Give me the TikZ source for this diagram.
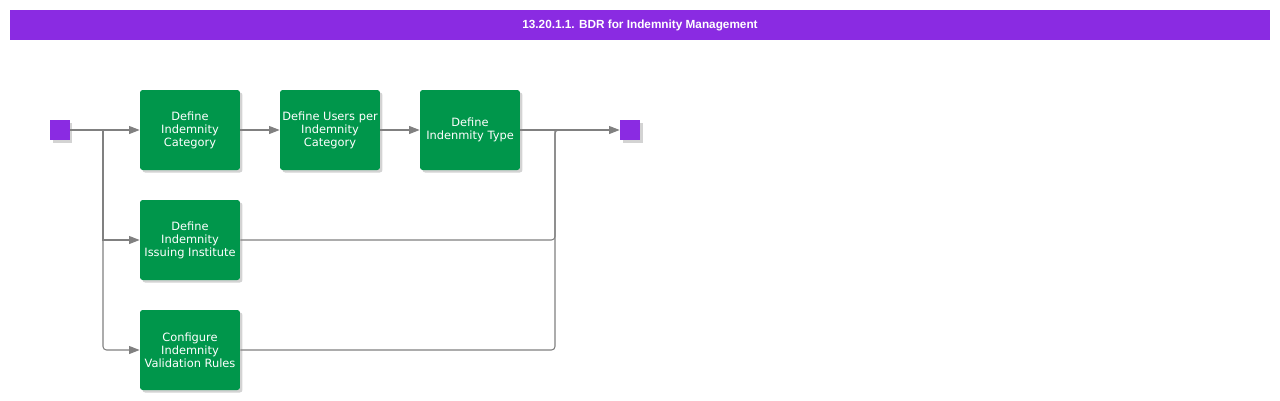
\documentclass[tikz,border=0pt]{standalone}
\usepackage{fontspec}
\setmainfont{DejaVu Sans}
\newfontfamily\headfont{Liberation Sans}
\usetikzlibrary{arrows.meta,shadows}
\definecolor{bdrpurple}{HTML}{8A2BE2}
\definecolor{bdrgreen}{HTML}{00964B}
\definecolor{bdrgray}{HTML}{808080}
\begin{document}
\begin{tikzpicture}[
    x=0.02cm, y=-0.02cm,
    font=\fontsize{6.5}{7.4}\selectfont,
    task/.style={
        fill=bdrgreen,
        text=white,
        rounded corners=1.5pt,
        align=center,
        minimum width=2cm,
        minimum height=1.6cm,
        inner sep=1pt,
        drop shadow={shadow xshift=0.05cm, shadow yshift=-0.05cm, opacity=0.35}
    },
    terminal/.style={
        fill=bdrpurple,
        minimum size=0.4cm,
        inner sep=0pt,
        drop shadow={shadow xshift=0.05cm, shadow yshift=-0.05cm, opacity=0.35}
    },
    flow/.style={
        draw=bdrgray,
        line width=0.6pt,
        -{Triangle[length=6pt,width=4.5pt]}
    },
    link/.style={
        draw=bdrgray,
        line width=0.6pt
    }
]
\useasboundingbox (0,0) rectangle (1280,400);

% Title bar
\node[fill=bdrpurple, minimum width=25.2cm, minimum height=0.6cm, inner sep=0pt,
      text=white, font=\headfont\bfseries\fontsize{6.7}{8}\selectfont] (title) at (640,25)
      {13.20.1.1. BDR for Indemnity Management};

% Start and end
\node[terminal] (start) at (60,130) {};
\node[terminal] (stop) at (630,130) {};

% Tasks
\node[task] (catdef) at (190,130) {Define\\Indemnity\\Category};
\node[task] (userdef) at (330,130) {Define Users per\\Indemnity\\Category};
\node[task] (typedef) at (470,130) {Define\\Indenmity Type};
\node[task] (instdef) at (190,240) {Define\\Indemnity\\Issuing Institute};
\node[task] (rulecfg) at (190,350) {Configure\\Indemnity\\Validation Rules};

\coordinate (fork) at (103,130);
\coordinate (join) at (555,130);

% Main path
\draw[flow] (start) -- (catdef);
\draw[flow] (catdef) -- (userdef);
\draw[flow] (userdef) -- (typedef);
\draw[flow] (typedef) -- (stop);

% Parallel branches
\draw[flow] (fork) |- (instdef.west);
\draw[flow, rounded corners=2pt] (fork) |- (rulecfg.west);
\draw[link, rounded corners=2pt] (instdef.east) -| (join);
\draw[link, rounded corners=2pt] (rulecfg.east) -| (join) -- ([xshift=0.2cm]join);

\end{tikzpicture}
\end{document}
